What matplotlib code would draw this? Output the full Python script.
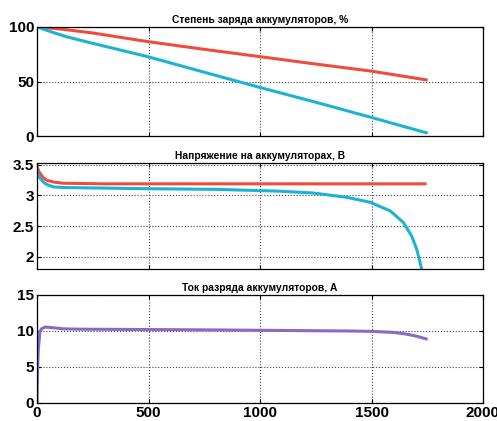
import matplotlib.pyplot as plt

# время, с
t_soc = [0, 50, 133, 250, 500, 750, 1000, 1250, 1500, 1745]
soc_red = [100, 99.2, 97.5, 94.5, 86.5, 79.5, 72.8, 66, 59.5, 51.5]
soc_blue = [100, 96.5, 91, 85, 72.6, 58.5, 44.5, 31, 17, 3]

t_v = [0, 10, 28, 43, 73, 118, 300, 500, 800, 1090, 1239, 1389, 1493, 1583, 1643, 1680, 1703, 1725, 1740]
v_red = [3.47, 3.38, 3.29, 3.25, 3.22, 3.2, 3.19, 3.19, 3.19, 3.19, 3.19, 3.19, 3.19, 3.19, 3.19, 3.19, 3.19, 3.19, 3.19]
v_blue = [3.39, 3.3, 3.22, 3.18, 3.14, 3.13, 3.12, 3.11, 3.1, 3.07, 3.04, 2.97, 2.89, 2.75, 2.56, 2.34, 2.12, 1.8, 1.6]

t_i = [0, 3, 6, 10, 13, 20, 36, 58, 118, 200, 500, 800, 1000, 1200, 1400, 1500, 1600, 1650, 1700, 1745]
i_val = [0, 5.0, 7.5, 8.8, 9.9, 10.3, 10.55, 10.5, 10.3, 10.25, 10.2, 10.15, 10.1, 10.05, 10.0, 9.95, 9.8, 9.6, 9.3, 8.9]

red = "#f04b3c"
blue = "#1cb3d3"
purple = "#8a6bc4"

plt.rcParams["font.family"] = ["Liberation Sans", "DejaVu Sans"]

fig = plt.figure(figsize=(4.97, 4.21), dpi=100)
W, H = 497, 421
left = 37 / W
width = (483 - 37) / W

# positions in px: top, bottom
boxes = [(27, 136), (163, 269), (295, 403)]
axes = []
for top, bot in boxes:
    ax = fig.add_axes([left, 1 - bot / H, width, (bot - top) / H])
    axes.append(ax)

ax1, ax2, ax3 = axes

ax1.plot(t_soc, soc_red, color=red, lw=2.2)
ax1.plot(t_soc, soc_blue, color=blue, lw=2.2)
ax1.set_ylim(0, 100)
ax1.set_yticks([0, 50, 100])
ax1.set_title("Степень заряда аккумуляторов, %", fontsize=7.4, fontweight="bold", pad=3)

ax2.plot(t_v, v_red, color=red, lw=2.2)
ax2.plot(t_v, v_blue, color=blue, lw=2.2)
ax2.set_ylim(1.8, 3.53)
ax2.set_yticks([2, 2.5, 3, 3.5])
ax2.set_yticklabels(["2", "2.5", "3", "3.5"])
ax2.set_title("Напряжение на аккумуляторах, В", fontsize=7.4, fontweight="bold", pad=3)

ax3.plot(t_i, i_val, color=purple, lw=2.2)
ax3.set_ylim(0, 15)
ax3.set_yticks([0, 5, 10, 15])
ax3.set_title("Ток разряда аккумуляторов, А", fontsize=7.4, fontweight="bold", pad=3)

for ax in axes:
    ax.set_xlim(0, 2000)
    ax.set_xticks([0, 500, 1000, 1500, 2000])
    ax.grid(True, linestyle=":", color="#444444", linewidth=0.8)
    ax.tick_params(direction="in", top=True, right=True, length=3, labelsize=11, pad=2)
    for lbl in ax.get_xticklabels() + ax.get_yticklabels():
        lbl.set_fontweight("bold")
    for s in ax.spines.values():
        s.set_linewidth(0.9)

ax1.tick_params(labelbottom=False)
ax2.tick_params(labelbottom=False)

fig.savefig("out.png", dpi=100)
